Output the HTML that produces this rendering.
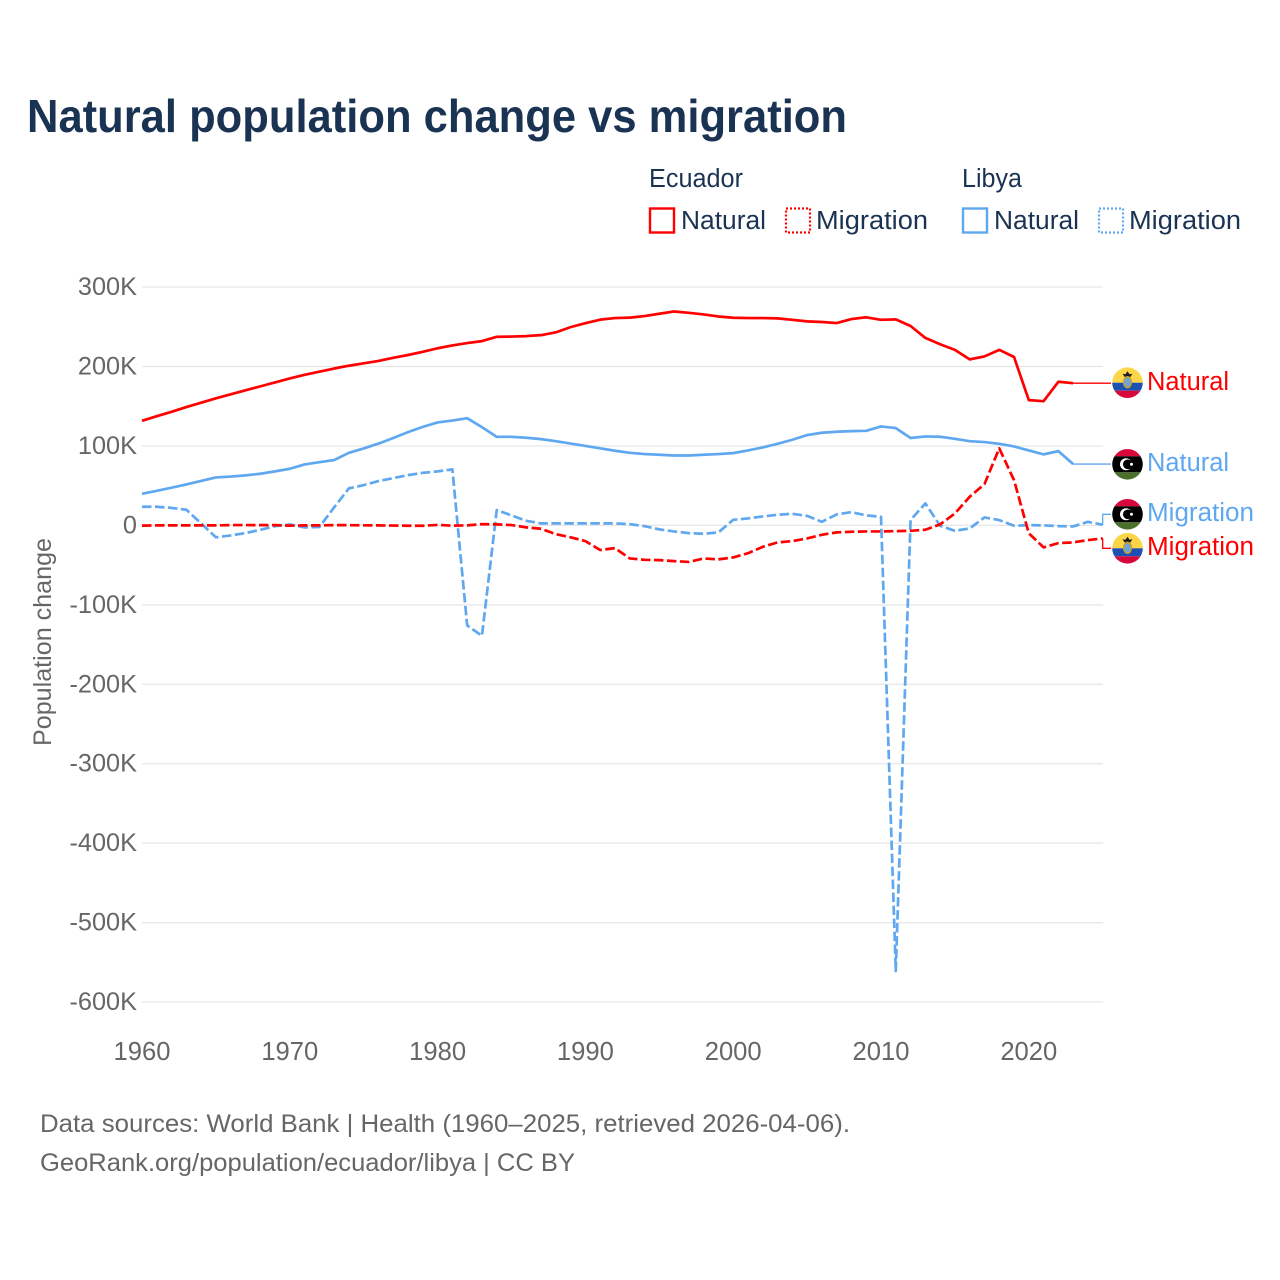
<!DOCTYPE html>
<html lang="en">
<head>
<meta charset="utf-8">
<title>Natural population change vs migration</title>
<style>
  html, body { margin: 0; padding: 0; background: #fff; }
  svg { display: block; font-family: "Liberation Sans", Arial, sans-serif; }
</style>
</head>
<body>
<svg id="chart" xmlns="http://www.w3.org/2000/svg" width="1280" height="1280" viewBox="0 0 1280 1280">
  <defs>
    <clipPath id="flag-clip"><circle cx="0" cy="0" r="15.3"></circle></clipPath>
  </defs>
  <rect x="0" y="0" width="1280" height="1280" fill="#ffffff"></rect>

  <text x="27" y="132" font-size="46.5" font-weight="700" fill="#1a3353" textLength="820" lengthAdjust="spacingAndGlyphs">Natural population change vs migration</text>

  <g font-size="25.5" fill="#1a3353">
    <text x="649" y="187" textLength="94" lengthAdjust="spacingAndGlyphs">Ecuador</text>
    <text x="962" y="187" textLength="60" lengthAdjust="spacingAndGlyphs">Libya</text>

    <rect x="650" y="208.5" width="24" height="24" fill="none" stroke="#ff0000" stroke-width="2.4"></rect>
    <text x="681" y="229" textLength="85" lengthAdjust="spacingAndGlyphs">Natural</text>
    <rect x="786" y="208.5" width="24" height="24" fill="none" stroke="#ff0000" stroke-width="2.2" stroke-dasharray="2 2"></rect>
    <text x="816" y="229" textLength="112" lengthAdjust="spacingAndGlyphs">Migration</text>

    <rect x="963" y="208.5" width="24" height="24" fill="none" stroke="#5fa8f0" stroke-width="2.4"></rect>
    <text x="994" y="229" textLength="85" lengthAdjust="spacingAndGlyphs">Natural</text>
    <rect x="1099" y="208.5" width="24" height="24" fill="none" stroke="#5fa8f0" stroke-width="2.2" stroke-dasharray="2 2"></rect>
    <text x="1129" y="229" textLength="112" lengthAdjust="spacingAndGlyphs">Migration</text>
  </g>

  <g id="grid"></g>
  <g id="y-ticks"></g>
  <g id="x-ticks"></g>
  <text transform="translate(51,642) rotate(-90)" text-anchor="middle" font-size="25" fill="#666666" textLength="208" lengthAdjust="spacingAndGlyphs">Population change</text>
  <g id="series"></g>
  <g id="leaders"></g>

  <g transform="translate(1127.5,382.7)" clip-path="url(#flag-clip)">
    <rect x="-16" y="-16" width="32" height="16" fill="#fcd548"></rect>
    <rect x="-16" y="0" width="32" height="8" fill="#1e50b4"></rect>
    <rect x="-16" y="8" width="32" height="8" fill="#d8083c"></rect>
    <path d="M-5 -9 L-2 -8.5 L0 -11.5 L2 -8.5 L5 -9 L2.5 -5.5 L-2.5 -5.5 Z" fill="#1b1b1b"></path>
    <ellipse cx="0" cy="-0.5" rx="4.6" ry="6.2" fill="#c9a227"></ellipse>
    <ellipse cx="0" cy="-0.5" rx="3.1" ry="4.7" fill="#6ea4dc"></ellipse>
  </g>
  <g transform="translate(1127.5,464.3)" clip-path="url(#flag-clip)">
    <rect x="-16" y="-16" width="32" height="8" fill="#d8083c"></rect>
    <rect x="-16" y="-8" width="32" height="16" fill="#000000"></rect>
    <rect x="-16" y="8" width="32" height="8" fill="#4b6f2d"></rect>
    <circle cx="-1.5" cy="0" r="6" fill="#ffffff"></circle>
    <circle cx="0.3" cy="0" r="4.8" fill="#000000"></circle>
    <circle cx="4" cy="0" r="1.5" fill="#ffffff"></circle>
  </g>
  <g transform="translate(1127.5,514.3)" clip-path="url(#flag-clip)">
    <rect x="-16" y="-16" width="32" height="8" fill="#d8083c"></rect>
    <rect x="-16" y="-8" width="32" height="16" fill="#000000"></rect>
    <rect x="-16" y="8" width="32" height="8" fill="#4b6f2d"></rect>
    <circle cx="-1.5" cy="0" r="6" fill="#ffffff"></circle>
    <circle cx="0.3" cy="0" r="4.8" fill="#000000"></circle>
    <circle cx="4" cy="0" r="1.5" fill="#ffffff"></circle>
  </g>
  <g transform="translate(1127.5,548.3)" clip-path="url(#flag-clip)">
    <rect x="-16" y="-16" width="32" height="16" fill="#fcd548"></rect>
    <rect x="-16" y="0" width="32" height="8" fill="#1e50b4"></rect>
    <rect x="-16" y="8" width="32" height="8" fill="#d8083c"></rect>
    <path d="M-5 -9 L-2 -8.5 L0 -11.5 L2 -8.5 L5 -9 L2.5 -5.5 L-2.5 -5.5 Z" fill="#1b1b1b"></path>
    <ellipse cx="0" cy="-0.5" rx="4.6" ry="6.2" fill="#c9a227"></ellipse>
    <ellipse cx="0" cy="-0.5" rx="3.1" ry="4.7" fill="#6ea4dc"></ellipse>
  </g>

  <g font-size="25.5">
    <text x="1147" y="390" fill="#ff0000" textLength="82" lengthAdjust="spacingAndGlyphs">Natural</text>
    <text x="1147" y="471" fill="#5fa8f0" textLength="82" lengthAdjust="spacingAndGlyphs">Natural</text>
    <text x="1147" y="521" fill="#5fa8f0" textLength="107" lengthAdjust="spacingAndGlyphs">Migration</text>
    <text x="1147" y="555" fill="#ff0000" textLength="107" lengthAdjust="spacingAndGlyphs">Migration</text>
  </g>

  <g font-size="25" fill="#666666">
    <text x="40" y="1132" textLength="810" lengthAdjust="spacingAndGlyphs">Data sources: World Bank | Health (1960–2025, retrieved 2026-04-06).</text>
    <text x="40" y="1171" textLength="535" lengthAdjust="spacingAndGlyphs">GeoRank.org/population/ecuador/libya | CC BY</text>
  </g>
</svg>

<script>
// Chart data (thousands of people per year)
const firstYear = 1960;
const yTickValues = [300, 200, 100, 0, -100, -200, -300, -400, -500, -600];
const yTickLabels = ["300K", "200K", "100K", "0", "-100K", "-200K", "-300K", "-400K", "-500K", "-600K"];
const xTickValues = [1960, 1970, 1980, 1990, 2000, 2010, 2020];
const xTickLabels = ["1960", "1970", "1980", "1990", "2000", "2010", "2020"];

const ecuadorNatural = [
  131.7, 137.5, 143, 149, 154.5, 160, 165, 170, 175, 180,
  185, 189.5, 193.5, 197.5, 201, 204, 207, 211, 214.5, 218.5,
  223, 226.5, 229.5, 232, 237.4, 237.7, 238.3, 239.5, 243, 249.6,
  254.6, 259, 261, 261.5, 263.5, 266.4, 269.3, 267.6, 265.6, 263,
  261.4, 261, 261, 260.6, 258.8, 256.8, 256, 254.7, 259.7, 262,
  258.8, 259.3, 251, 236, 228, 221, 209, 212.7, 221, 212,
  157.7, 156.4, 180.8, 179
];
const ecuadorMigration = [
  -0.3, 0, 0, 0, 0, 0, 0.4, 0.4, 0.3, 0.3,
  -0.3, 0, 0, 0.4, 0.3, 0.1, 0, -0.2, -0.4, -0.4,
  0.6, -0.3, 0, 1.6, 1.3, 0.4, -2.5, -4.2, -11, -15,
  -19.8, -31, -28.6, -41.6, -43.3, -43.7, -45, -46, -41.6, -42.8,
  -40.3, -35, -27, -21.4, -19.8, -16.4, -11.8, -8.8, -8, -7.6,
  -7.6, -7.2, -6.8, -5.5, 1.3, 15, 36, 52, 97, 57,
  -10, -27.7, -22.3, -21.4, -18.5, -16.4
];
const libyaNatural = [
  39.8, 43.5, 47.5, 51.5, 56, 60.4, 61.5, 63, 65, 68,
  71.3, 76.7, 79.6, 82.2, 91.4, 96.9, 103, 110, 117.4, 124,
  129.6, 132, 135, 123.7, 111.5, 111.5, 110.3, 108.6, 106, 103,
  100, 97, 94, 91.4, 89.8, 88.9, 88, 88, 88.9, 89.8,
  91, 94.4, 98.2, 102.7, 107.8, 113.7, 116.6, 117.9, 118.7, 119.1,
  124.6, 122.5, 110, 112, 111.6, 109, 106, 104.9, 102.7, 99.4,
  94.4, 89.4, 93.5, 77.2
];
const libyaMigration = [
  23.5, 23.5, 22, 19.7, 2.5, -15, -12.6, -9.7, -5.5, -1,
  1.2, -2.5, -2, 22.7, 46.6, 50.7, 55.8, 59.5, 63.3, 66.2,
  68, 70.5, -125.9, -139, 19.3, 12.6, 5.8, 2.5, 2.5, 2.5,
  2.5, 2.5, 2.5, 1.6, -0.9, -5, -7.6, -9.7, -10.5, -8.8,
  7, 8.8, 11.3, 13.4, 14.6, 12, 4.5, 13.8, 16.7, 12.6,
  10.8, -561, 6.7, 27.7, -0.5, -6.8, -3.8, 10, 6.7, -0.5,
  0.4, 0, -0.9, -1.3, 4.5, 0.8
];

// Axis functions
function xScale(year) { return 142 + (year - 1960) * 14.78; }
function yScale(value) { return 525.4 - value * 0.7944; }

const SVG_NS = "http://www.w3.org/2000/svg";
const RED = "#ff0000";
const BLUE = "#5fa8f0";

const gridLayer = document.getElementById("grid");
const yTickLayer = document.getElementById("y-ticks");
const xTickLayer = document.getElementById("x-ticks");
const seriesLayer = document.getElementById("series");
const leaderLayer = document.getElementById("leaders");

yTickValues.forEach(function (value, i) {
  const line = document.createElementNS(SVG_NS, "line");
  
  
  line.setAttribute("x1", 142);
  line.setAttribute("x2", 1103);
  line.setAttribute("y1", yScale(value));
  line.setAttribute("y2", yScale(value));
  line.setAttribute("stroke", "#e6e6e6");
  line.setAttribute("stroke-width", "1.2");
  gridLayer.appendChild(line);

  const label = document.createElementNS(SVG_NS, "text");
  
  
  label.setAttribute("x", 137);
  label.setAttribute("y", yScale(value) + 8);
  label.setAttribute("text-anchor", "end");
  label.setAttribute("font-size", "25.3");
  label.setAttribute("fill", "#666666");
  label.textContent = yTickLabels[i];
  yTickLayer.appendChild(label);
});

xTickValues.forEach(function (year, i) {
  const label = document.createElementNS(SVG_NS, "text");
  
  
  label.setAttribute("x", xScale(year));
  label.setAttribute("y", 1060);
  label.setAttribute("text-anchor", "middle");
  label.setAttribute("font-size", "25.6");
  label.setAttribute("fill", "#666666");
  label.textContent = xTickLabels[i];
  xTickLayer.appendChild(label);
});

function linePoints(values) {
  return values.map(function (value, i) {
    return xScale(firstYear + i).toFixed(2) + "," + yScale(value).toFixed(2);
  }).join(" ");
}

function drawSeries(values, color, dashed, name) {
  const line = document.createElementNS(SVG_NS, "polyline");
  
  
  line.setAttribute("points", linePoints(values));
  line.setAttribute("fill", "none");
  line.setAttribute("stroke", color);
  line.setAttribute("stroke-width", "2.7");
  line.setAttribute("stroke-linejoin", "round");
  if (dashed) line.setAttribute("stroke-dasharray", "9.5 3.5");
  seriesLayer.appendChild(line);
}

drawSeries(libyaNatural, BLUE, false, "line-libya-natural");
drawSeries(libyaMigration, BLUE, true, "line-libya-migration");
drawSeries(ecuadorNatural, RED, false, "line-ecuador-natural");
drawSeries(ecuadorMigration, RED, true, "line-ecuador-migration");

// Natural leaders run straight out of the series end; migration leaders step to their label.
function drawStraightLeader(values, color, name) {
  const lastX = xScale(firstYear + values.length - 1);
  const lastY = yScale(values[values.length - 1]);
  const path = document.createElementNS(SVG_NS, "path");
  
  
  path.setAttribute("d", "M" + lastX + " " + lastY + " H1111");
  path.setAttribute("fill", "none");
  path.setAttribute("stroke", color);
  path.setAttribute("stroke-width", "1.3");
  leaderLayer.appendChild(path);
}

function drawStepLeader(values, color, labelY, name) {
  const lastX = xScale(firstYear + values.length - 1);
  const lastY = yScale(values[values.length - 1]);
  const path = document.createElementNS(SVG_NS, "path");
  
  
  path.setAttribute("d", "M" + lastX + " " + lastY + " V" + labelY + " H1111");
  path.setAttribute("fill", "none");
  path.setAttribute("stroke", color);
  path.setAttribute("stroke-width", "1.3");
  leaderLayer.appendChild(path);
}

drawStraightLeader(ecuadorNatural, RED, "leader-ecuador-natural");
drawStraightLeader(libyaNatural, BLUE, "leader-libya-natural");
drawStepLeader(libyaMigration, BLUE, 514.3, "leader-libya-migration");
drawStepLeader(ecuadorMigration, RED, 548.3, "leader-ecuador-migration");
</script>
</body>
</html>
